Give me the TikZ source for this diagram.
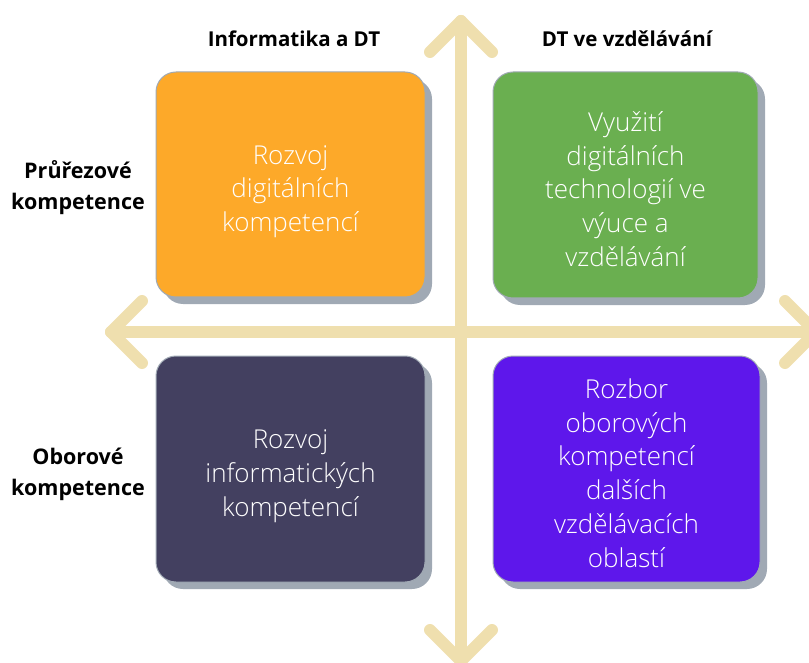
\documentclass[tikz,border=0pt]{standalone}
\usepackage{fontspec}
\setmainfont{Open Sans}
\newfontfamily\lightfont{Open Sans Light}
\usetikzlibrary{shadows}
\definecolor{axisc}{RGB}{239,223,174}
\definecolor{shadowc}{RGB}{160,169,180}
\definecolor{orangec}{RGB}{253,169,41}
\definecolor{greenc}{RGB}{106,175,80}
\definecolor{darkc}{RGB}{67,64,96}
\definecolor{purplec}{RGB}{94,23,235}
\begin{document}
\begin{tikzpicture}[x=1pt,y=-1pt,
  axisline/.style={line width=12pt, draw=axisc, line cap=round, line join=round},
  quad/.style={rounded corners=20pt, draw=shadowc, line width=1pt,
    minimum width=269pt, minimum height=225pt, inner sep=0pt,
    drop shadow={shadow xshift=7pt, shadow yshift=-7pt, fill=shadowc, opacity=1}},
  quadtext/.style={align=center, text=white, inner sep=0pt, yshift=-4pt,
    font=\lightfont\fontsize{26}{33.7}\selectfont},
  head/.style={font=\bfseries\fontsize{20.5}{24}\selectfont, text=black},
  side/.style={font=\bfseries\fontsize{21.5}{31}\selectfont, text=black, align=center}]
\useasboundingbox (0,0) rectangle (809,663);
\clip (0,0) rectangle (809,663);
% axes
\coordinate (ttip) at (461,21);
\coordinate (tl) at (430,52);
\coordinate (tr) at (492,52);
\coordinate (btip) at (461,661);
\coordinate (bl) at (430,630);
\coordinate (br) at (492,630);
\coordinate (ltip) at (111,332);
\coordinate (lu) at (142,301);
\coordinate (ld) at (142,363);
\coordinate (rtip) at (816,332);
\coordinate (ru) at (785,301);
\coordinate (rd) at (785,363);
\draw[axisline] (ttip) -- (btip);
\draw[axisline] (ltip) -- (rtip);
\draw[axisline] (tl) -- (ttip) -- (tr);
\draw[axisline] (bl) -- (btip) -- (br);
\draw[axisline] (lu) -- (ltip) -- (ld);
\draw[axisline] (ru) -- (rtip) -- (rd);
% quadrants
\node[quad, fill=orangec] (q1) at (290.5,184.5) {};
\node[quad, fill=greenc, minimum width=265pt, minimum height=226pt] (q2) at (625.5,185) {};
\node[quad, fill=darkc, minimum height=226pt] (q3) at (290.5,469) {};
\node[quad, fill=purplec, minimum width=267pt, minimum height=226pt] (q4) at (626.5,469) {};
\node[quadtext, yshift=-3pt] (t1) at (q1.center) {Rozvoj\\digitálních\\kompetencí};
\node[quadtext] (t2) at (q2.center) {Využití\\digitálních\\technologií ve\\výuce a\\vzdělávání};
\node[quadtext, yshift=-3pt] (t3) at (q3.center) {Rozvoj\\informatických\\kompetencí};
\node[quadtext] (t4) at (q4.center) {Rozbor\\oborových\\kompetencí\\dalších\\vzdělávacích\\oblastí};
% labels
\node[head] (h1) at (294,39) {Informatika a DT};
\node[head] (h2) at (627,39) {DT ve vzdělávání};
\node[side] (s1) at (78,188) {Průřezové\\kompetence};
\node[side] (s2) at (78,474) {Oborové\\kompetence};
\end{tikzpicture}
\end{document}
